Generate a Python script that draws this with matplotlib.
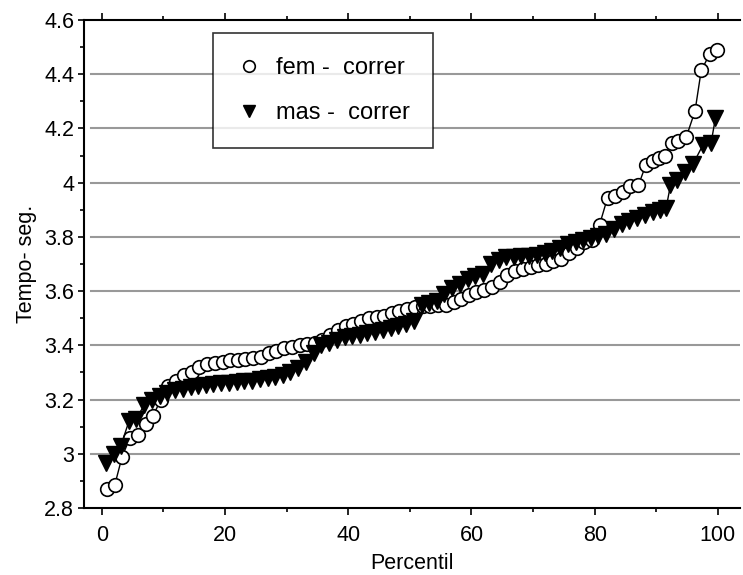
import matplotlib
matplotlib.use('Agg')
from matplotlib import pyplot as plt
from matplotlib.ticker import MultipleLocator
import numpy as np

# fem - correr (percentil, tempo)
fem_x = [0.8, 2.1, 3.3, 4.6, 5.8, 7.1, 8.3, 9.6, 10.8, 12.1, 13.3, 14.6, 15.8, 17.1, 18.3, 19.6,
         20.8, 22.1, 23.3, 24.6, 25.8, 27.1, 28.3, 29.6, 30.8, 32.1, 33.3, 34.6, 35.8, 37.1, 38.3,
         39.6, 40.8, 42.1, 43.3, 44.6, 45.8, 47.1, 48.3, 49.6, 50.8, 52.1, 53.3, 54.6, 55.8, 57.1,
         58.3, 59.6, 60.8, 62.1, 63.3, 64.6, 65.8, 67.1, 68.3, 69.6, 70.8, 72.1, 73.3, 74.6, 75.8,
         77.1, 78.3, 79.6, 80.8, 82.1, 83.3, 84.6, 85.8, 87.1, 88.3, 89.5, 90.4, 91.4, 92.5, 93.6,
         94.9, 96.3, 97.3, 98.7, 99.9]
fem_y = [2.87, 2.885, 2.99, 3.06, 3.07, 3.11, 3.14, 3.20, 3.25, 3.27, 3.29, 3.30, 3.32, 3.33, 3.335, 3.34,
         3.345, 3.346, 3.35, 3.353, 3.358, 3.37, 3.38, 3.39, 3.395, 3.40, 3.405, 3.41, 3.42, 3.44, 3.455,
         3.47, 3.48, 3.49, 3.50, 3.504, 3.51, 3.52, 3.525, 3.535, 3.54, 3.545, 3.545, 3.548, 3.55, 3.56,
         3.57, 3.585, 3.595, 3.603, 3.615, 3.632, 3.66, 3.673, 3.68, 3.69, 3.695, 3.70, 3.71, 3.72, 3.74,
         3.76, 3.78, 3.79, 3.845, 3.945, 3.95, 3.965, 3.988, 3.99, 4.065, 4.08, 4.09, 4.10, 4.148, 4.152,
         4.17, 4.265, 4.414, 4.475, 4.49]

# mas - correr
mas_x = [0.6, 1.9, 3.1, 4.4, 5.6, 6.9, 8.1, 9.4, 10.6, 11.9, 13.1, 14.4, 15.6, 16.9, 18.1, 19.4,
         20.6, 21.9, 23.1, 24.4, 25.6, 26.9, 28.1, 29.4, 30.6, 31.9, 33.1, 34.4, 35.6, 36.9, 38.1,
         39.4, 40.6, 41.9, 43.1, 44.4, 45.6, 46.9, 48.1, 49.4, 50.6, 51.9, 53.1, 54.4, 55.6, 56.9,
         58.1, 59.4, 60.6, 61.9, 63.1, 64.4, 65.6, 66.9, 68.1, 69.4, 70.6, 71.9, 73.1, 74.4, 75.6,
         76.9, 78.1, 79.4, 80.6, 81.9, 83.1, 84.4, 85.6, 86.9, 88.1, 89.4, 90.6, 91.6, 92.3, 93.3,
         94.6, 96.0, 97.6, 98.9, 99.6]
mas_y = [2.965, 3.00, 3.03, 3.12, 3.13, 3.18, 3.20, 3.215, 3.225, 3.235, 3.24, 3.245, 3.25, 3.255, 3.258, 3.26,
         3.262, 3.265, 3.268, 3.27, 3.275, 3.28, 3.285, 3.29, 3.30, 3.315, 3.34, 3.37, 3.40, 3.41, 3.42,
         3.43, 3.435, 3.44, 3.445, 3.45, 3.455, 3.465, 3.47, 3.48, 3.49, 3.55, 3.555, 3.565, 3.59, 3.61,
         3.625, 3.645, 3.655, 3.665, 3.70, 3.715, 3.725, 3.727, 3.728, 3.73, 3.735, 3.74, 3.748, 3.76, 3.772,
         3.78, 3.79, 3.797, 3.805, 3.81, 3.83, 3.848, 3.86, 3.87, 3.88, 3.89, 3.90, 3.906, 3.99, 4.01,
         4.04, 4.07, 4.14, 4.146, 4.238]

plt.rcParams['font.family'] = ['Liberation Sans', 'DejaVu Sans']

fig = plt.figure(figsize=(7.43, 5.75), dpi=100)
ax = fig.add_axes([0.113, 0.1165, 0.883, 0.8487])

# horizontal grid lines
for yv in [3.0, 3.2, 3.4, 3.6, 3.8, 4.0, 4.2, 4.4]:
    ax.axhline(yv, xmin=0.01, xmax=1, color='#999999', lw=1.5, zorder=0)

ax.plot(fem_x, fem_y, '-', color='black', lw=1, marker='o', markersize=9.8,
        markerfacecolor='white', markeredgecolor='black', markeredgewidth=1.2,
        label='fem -  correr', zorder=2)
ax.plot(mas_x, mas_y, '-', color='black', lw=1, marker='v', markersize=11,
        markerfacecolor='black', markeredgecolor='black',
        label='mas -  correr', zorder=3)

ax.set_xlim(-2.9, 103.6)
ax.set_ylim(2.8, 4.6)
ax.xaxis.set_major_locator(MultipleLocator(20))
ax.xaxis.set_minor_locator(MultipleLocator(10))
ax.yaxis.set_minor_locator(MultipleLocator(0.1))
ax.set_yticks(np.arange(2.8, 4.61, 0.2))
ax.set_yticklabels(['2.8', '3', '3.2', '3.4', '3.6', '3.8', '4', '4.2', '4.4', '4.6'])
ax.spines['right'].set_visible(False)
for s in ['left', 'bottom', 'top']:
    ax.spines[s].set_linewidth(1.5)
ax.tick_params(axis='x', which='both', top=True, direction='out', labelsize=15.5, width=1.2, pad=7)
ax.tick_params(axis='x', which='major', length=5)
ax.tick_params(axis='x', which='minor', length=3)
ax.tick_params(axis='y', which='both', direction='out', labelsize=15.5, width=1.2, pad=3)
ax.tick_params(axis='y', which='major', length=4)
ax.tick_params(axis='y', which='minor', length=3)

ax.set_xlabel('Percentil', fontsize=15.5, labelpad=5)
ax.set_ylabel('Tempo- seg.', fontsize=15.5, labelpad=5)

leg = ax.legend(loc='upper left', bbox_to_anchor=(0.197, 0.973), borderaxespad=0,
                fontsize=17, frameon=True, fancybox=False, handlelength=1.0,
                handletextpad=0.65, labelspacing=1.0, borderpad=1.0, markerscale=0.85)
leg.get_frame().set_edgecolor('black')
leg.get_frame().set_linewidth(1.2)
for h in leg.get_lines():
    h.set_linestyle('none')

fig.savefig('out.png', dpi=100)
